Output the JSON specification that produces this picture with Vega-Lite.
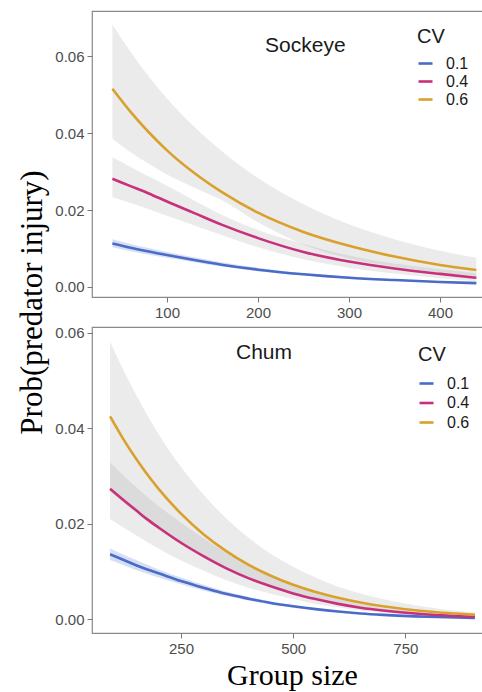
{
  "$schema": "https://vega.github.io/schema/vega-lite/v6.json",
  "padding": {"left": 15, "top": 10, "right": 0, "bottom": 2},
  "background": "white",
  "config": {
    "font": "Liberation Sans",
    "view": {"stroke": "#8a8a8a", "strokeWidth": 1.2},
    "axis": {"grid": false, "domain": false, "tickColor": "#777777", "tickSize": 5, "labelColor": "#4d4d4d", "labelFontSize": 15, "labelFont": "Liberation Sans", "labelPadding": 3}
  },
  "datasets": {
    "sockeye": [
      {"size": 40, "cv": "0.1", "fit": 0.0113, "lo": 0.0103, "hi": 0.0124},
      {"size": 60, "cv": "0.1", "fit": 0.0102, "lo": 0.0093, "hi": 0.0112},
      {"size": 80, "cv": "0.1", "fit": 0.0092, "lo": 0.0084, "hi": 0.0101},
      {"size": 100, "cv": "0.1", "fit": 0.0083, "lo": 0.0076, "hi": 0.0091},
      {"size": 130, "cv": "0.1", "fit": 0.0070, "lo": 0.0064, "hi": 0.0077},
      {"size": 160, "cv": "0.1", "fit": 0.0058, "lo": 0.0053, "hi": 0.0064},
      {"size": 200, "cv": "0.1", "fit": 0.0045, "lo": 0.0041, "hi": 0.0050},
      {"size": 250, "cv": "0.1", "fit": 0.0033, "lo": 0.0030, "hi": 0.0036},
      {"size": 300, "cv": "0.1", "fit": 0.0024, "lo": 0.0022, "hi": 0.0027},
      {"size": 350, "cv": "0.1", "fit": 0.0018, "lo": 0.0016, "hi": 0.0020},
      {"size": 400, "cv": "0.1", "fit": 0.0013, "lo": 0.0012, "hi": 0.0014},
      {"size": 440, "cv": "0.1", "fit": 0.0010, "lo": 0.0009, "hi": 0.0011},
      {"size": 40, "cv": "0.4", "fit": 0.0281, "lo": 0.0233, "hi": 0.0337},
      {"size": 60, "cv": "0.4", "fit": 0.0262, "lo": 0.0218, "hi": 0.0312},
      {"size": 80, "cv": "0.4", "fit": 0.0243, "lo": 0.0202, "hi": 0.0287},
      {"size": 100, "cv": "0.4", "fit": 0.0222, "lo": 0.0185, "hi": 0.0263},
      {"size": 130, "cv": "0.4", "fit": 0.0192, "lo": 0.0160, "hi": 0.0225},
      {"size": 160, "cv": "0.4", "fit": 0.0162, "lo": 0.0135, "hi": 0.0188},
      {"size": 200, "cv": "0.4", "fit": 0.0127, "lo": 0.0103, "hi": 0.0148},
      {"size": 250, "cv": "0.4", "fit": 0.0091, "lo": 0.0072, "hi": 0.0112},
      {"size": 300, "cv": "0.4", "fit": 0.0066, "lo": 0.0050, "hi": 0.0082},
      {"size": 350, "cv": "0.4", "fit": 0.0048, "lo": 0.0035, "hi": 0.0061},
      {"size": 400, "cv": "0.4", "fit": 0.0034, "lo": 0.0023, "hi": 0.0046},
      {"size": 440, "cv": "0.4", "fit": 0.0024, "lo": 0.0015, "hi": 0.0036},
      {"size": 40, "cv": "0.6", "fit": 0.0515, "lo": 0.0385, "hi": 0.0682},
      {"size": 60, "cv": "0.6", "fit": 0.0455, "lo": 0.0350, "hi": 0.0611},
      {"size": 80, "cv": "0.6", "fit": 0.0402, "lo": 0.0320, "hi": 0.0547},
      {"size": 100, "cv": "0.6", "fit": 0.0355, "lo": 0.0292, "hi": 0.0490},
      {"size": 130, "cv": "0.6", "fit": 0.0296, "lo": 0.0258, "hi": 0.0416},
      {"size": 160, "cv": "0.6", "fit": 0.0247, "lo": 0.0226, "hi": 0.0353},
      {"size": 200, "cv": "0.6", "fit": 0.0193, "lo": 0.0168, "hi": 0.0283},
      {"size": 250, "cv": "0.6", "fit": 0.0143, "lo": 0.0110, "hi": 0.0215},
      {"size": 300, "cv": "0.6", "fit": 0.0107, "lo": 0.0074, "hi": 0.0163},
      {"size": 350, "cv": "0.6", "fit": 0.0079, "lo": 0.0053, "hi": 0.0124},
      {"size": 400, "cv": "0.6", "fit": 0.0057, "lo": 0.0037, "hi": 0.0094},
      {"size": 440, "cv": "0.6", "fit": 0.0044, "lo": 0.0028, "hi": 0.0076}
    ],
    "chum": [
      {"size": 92, "cv": "0.1", "fit": 0.0136, "lo": 0.0124, "hi": 0.0148},
      {"size": 125, "cv": "0.1", "fit": 0.0123, "lo": 0.0112, "hi": 0.0134},
      {"size": 150, "cv": "0.1", "fit": 0.0113, "lo": 0.0103, "hi": 0.0124},
      {"size": 175, "cv": "0.1", "fit": 0.0104, "lo": 0.0095, "hi": 0.0114},
      {"size": 200, "cv": "0.1", "fit": 0.0096, "lo": 0.0087, "hi": 0.0104},
      {"size": 250, "cv": "0.1", "fit": 0.0080, "lo": 0.0073, "hi": 0.0087},
      {"size": 300, "cv": "0.1", "fit": 0.0066, "lo": 0.0060, "hi": 0.0072},
      {"size": 350, "cv": "0.1", "fit": 0.0053, "lo": 0.0049, "hi": 0.0058},
      {"size": 400, "cv": "0.1", "fit": 0.0043, "lo": 0.0039, "hi": 0.0047},
      {"size": 450, "cv": "0.1", "fit": 0.0034, "lo": 0.0031, "hi": 0.0037},
      {"size": 500, "cv": "0.1", "fit": 0.0027, "lo": 0.0024, "hi": 0.0029},
      {"size": 550, "cv": "0.1", "fit": 0.0021, "lo": 0.0019, "hi": 0.0023},
      {"size": 600, "cv": "0.1", "fit": 0.0016, "lo": 0.0015, "hi": 0.0017},
      {"size": 650, "cv": "0.1", "fit": 0.0012, "lo": 0.0011, "hi": 0.0013},
      {"size": 700, "cv": "0.1", "fit": 0.0009, "lo": 0.0008, "hi": 0.0010},
      {"size": 800, "cv": "0.1", "fit": 0.00049, "lo": 0.00045, "hi": 0.00053},
      {"size": 905, "cv": "0.1", "fit": 0.00024, "lo": 0.00022, "hi": 0.00026},
      {"size": 92, "cv": "0.4", "fit": 0.0273, "lo": 0.0210, "hi": 0.0328},
      {"size": 125, "cv": "0.4", "fit": 0.0247, "lo": 0.0190, "hi": 0.0298},
      {"size": 150, "cv": "0.4", "fit": 0.0228, "lo": 0.0176, "hi": 0.0277},
      {"size": 175, "cv": "0.4", "fit": 0.0209, "lo": 0.0161, "hi": 0.0256},
      {"size": 200, "cv": "0.4", "fit": 0.0192, "lo": 0.0148, "hi": 0.0237},
      {"size": 250, "cv": "0.4", "fit": 0.0160, "lo": 0.0123, "hi": 0.0202},
      {"size": 300, "cv": "0.4", "fit": 0.0132, "lo": 0.0102, "hi": 0.0170},
      {"size": 350, "cv": "0.4", "fit": 0.0107, "lo": 0.0082, "hi": 0.0139},
      {"size": 400, "cv": "0.4", "fit": 0.0086, "lo": 0.0066, "hi": 0.0112},
      {"size": 450, "cv": "0.4", "fit": 0.0069, "lo": 0.0053, "hi": 0.0090},
      {"size": 500, "cv": "0.4", "fit": 0.0054, "lo": 0.0042, "hi": 0.0070},
      {"size": 550, "cv": "0.4", "fit": 0.0042, "lo": 0.0032, "hi": 0.0055},
      {"size": 600, "cv": "0.4", "fit": 0.0032, "lo": 0.0025, "hi": 0.0042},
      {"size": 650, "cv": "0.4", "fit": 0.0024, "lo": 0.0018, "hi": 0.0031},
      {"size": 700, "cv": "0.4", "fit": 0.0018, "lo": 0.0014, "hi": 0.0023},
      {"size": 800, "cv": "0.4", "fit": 0.00098, "lo": 0.00075, "hi": 0.0013},
      {"size": 905, "cv": "0.4", "fit": 0.00049, "lo": 0.00038, "hi": 0.00064},
      {"size": 92, "cv": "0.6", "fit": 0.0425, "lo": 0.0268, "hi": 0.0581},
      {"size": 125, "cv": "0.6", "fit": 0.0372, "lo": 0.0242, "hi": 0.0515},
      {"size": 150, "cv": "0.6", "fit": 0.0336, "lo": 0.0223, "hi": 0.0470},
      {"size": 175, "cv": "0.6", "fit": 0.0303, "lo": 0.0205, "hi": 0.0427},
      {"size": 200, "cv": "0.6", "fit": 0.0273, "lo": 0.0188, "hi": 0.0388},
      {"size": 250, "cv": "0.6", "fit": 0.0221, "lo": 0.0157, "hi": 0.0319},
      {"size": 300, "cv": "0.6", "fit": 0.0178, "lo": 0.0129, "hi": 0.0261},
      {"size": 350, "cv": "0.6", "fit": 0.0143, "lo": 0.0105, "hi": 0.0212},
      {"size": 400, "cv": "0.6", "fit": 0.0114, "lo": 0.0084, "hi": 0.0171},
      {"size": 450, "cv": "0.6", "fit": 0.0091, "lo": 0.0068, "hi": 0.0137},
      {"size": 500, "cv": "0.6", "fit": 0.0072, "lo": 0.0053, "hi": 0.0110},
      {"size": 550, "cv": "0.6", "fit": 0.0057, "lo": 0.0041, "hi": 0.0087},
      {"size": 600, "cv": "0.6", "fit": 0.0045, "lo": 0.0031, "hi": 0.0068},
      {"size": 650, "cv": "0.6", "fit": 0.0035, "lo": 0.0024, "hi": 0.0054},
      {"size": 700, "cv": "0.6", "fit": 0.0027, "lo": 0.0018, "hi": 0.0042},
      {"size": 800, "cv": "0.6", "fit": 0.0016, "lo": 0.00096, "hi": 0.0025},
      {"size": 905, "cv": "0.6", "fit": 0.00093, "lo": 0.00048, "hi": 0.0014}
    ]
  },
  "spacing": 30,
  "bounds": "flush",
  "resolve": {"scale": {"color": "independent", "x": "independent", "y": "independent"}},
  "vconcat": [
    {
      "width": 392,
      "height": 286,
      "encoding": {
        "x": {"field": "size", "type": "quantitative", "scale": {"domain": [17.6, 448.4], "nice": false, "zero": false}, "axis": {"values": [100, 200, 300, 400], "title": null}},
        "y": {"field": "fit", "type": "quantitative", "scale": {"domain": [-0.0026, 0.0717], "nice": false, "zero": false},
          "axis": {"values": [0, 0.02, 0.04, 0.06], "format": ".2f", "title": "Prob(predator injury)", "titleFont": "Liberation Serif", "titleFontSize": 31, "titleFontWeight": "normal", "titleColor": "#000000", "titleX": -60, "titleY": 291, "titleBaseline": "middle", "titleAngle": 270}}
      },
      "layer": [
        {
          "data": {"name": "sockeye"},
          "transform": [{"filter": "datum.cv != '0.1'"}],
          "mark": {"type": "area", "opacity": 0.2, "color": "#9a9a9a", "interpolate": "monotone"},
          "encoding": {
            "y": {"field": "lo", "type": "quantitative", "axis": {"values": [0, 0.02, 0.04, 0.06], "format": ".2f", "title": "Prob(predator injury)", "titleFont": "Liberation Serif", "titleFontSize": 31, "titleFontWeight": "normal", "titleColor": "#000000", "titleX": -60, "titleY": 291, "titleBaseline": "middle", "titleAngle": 270}},
            "y2": {"field": "hi"},
            "detail": {"field": "cv", "type": "nominal"}
          }
        },
        {
          "data": {"name": "sockeye"},
          "transform": [{"filter": "datum.cv == '0.1'"}],
          "mark": {"type": "area", "opacity": 0.22, "color": "#4a6fd0", "interpolate": "monotone"},
          "encoding": {
            "y": {"field": "lo", "type": "quantitative", "axis": {"values": [0, 0.02, 0.04, 0.06], "format": ".2f", "title": "Prob(predator injury)", "titleFont": "Liberation Serif", "titleFontSize": 31, "titleFontWeight": "normal", "titleColor": "#000000", "titleX": -60, "titleY": 291, "titleBaseline": "middle", "titleAngle": 270}},
            "y2": {"field": "hi"}
          }
        },
        {
          "data": {"name": "sockeye"},
          "mark": {"type": "line", "strokeWidth": 2.6, "interpolate": "monotone"},
          "encoding": {
            "color": {"field": "cv", "type": "nominal", "scale": {"domain": ["0.1", "0.4", "0.6"], "range": ["#4a6bc8", "#c8307c", "#d9a02c"]},
              "legend": {"title": "CV", "orient": "none", "legendX": 325, "legendY": 16, "titleFontSize": 20, "titleFontWeight": "normal", "titleColor": "#1a1a1a", "titlePadding": 8, "labelFontSize": 16, "labelColor": "#1a1a1a", "symbolType": "stroke", "symbolSize": 196, "symbolStrokeWidth": 2.6, "labelOffset": 12, "rowPadding": 1, "padding": 0}}
          }
        },
        {
          "data": {"values": [{"size": 252, "fit": 0.0626, "label": "Sockeye"}]},
          "mark": {"type": "text", "fontSize": 21, "color": "#1a1a1a", "baseline": "middle", "align": "center"},
          "encoding": {
            "text": {"field": "label"}
          }
        }
      ]
    },
    {
      "width": 392,
      "height": 306,
      "encoding": {
        "x": {"field": "size", "type": "quantitative", "scale": {"domain": [51.7, 925.2], "nice": false, "zero": false},
          "axis": {"values": [250, 500, 750], "title": "Group size", "titleFont": "Liberation Serif", "titleFontSize": 30, "titleFontWeight": "normal", "titleColor": "#000000", "titleX": 200, "titleY": 51, "titleBaseline": "alphabetic", "titleAlign": "center"}},
        "y": {"field": "fit", "type": "quantitative", "scale": {"domain": [-0.0029, 0.0612], "nice": false, "zero": false},
          "axis": {"values": [0, 0.02, 0.04, 0.06], "format": ".2f", "title": null}}
      },
      "layer": [
        {
          "data": {"name": "chum"},
          "transform": [{"filter": "datum.cv != '0.1'"}],
          "mark": {"type": "area", "opacity": 0.2, "color": "#9a9a9a", "interpolate": "monotone"},
          "encoding": {
            "y": {"field": "lo", "type": "quantitative", "axis": {"values": [0, 0.02, 0.04, 0.06], "format": ".2f", "title": null}},
            "y2": {"field": "hi"},
            "detail": {"field": "cv", "type": "nominal"}
          }
        },
        {
          "data": {"name": "chum"},
          "transform": [{"filter": "datum.cv == '0.1'"}],
          "mark": {"type": "area", "opacity": 0.22, "color": "#4a6fd0", "interpolate": "monotone"},
          "encoding": {
            "y": {"field": "lo", "type": "quantitative", "axis": {"values": [0, 0.02, 0.04, 0.06], "format": ".2f", "title": null}},
            "y2": {"field": "hi"}
          }
        },
        {
          "data": {"name": "chum"},
          "mark": {"type": "line", "strokeWidth": 2.6, "interpolate": "monotone"},
          "encoding": {
            "color": {"field": "cv", "type": "nominal", "scale": {"domain": ["0.1", "0.4", "0.6"], "range": ["#4a6bc8", "#c8307c", "#d9a02c"]},
              "legend": {"title": "CV", "orient": "none", "legendX": 326, "legendY": 18, "titleFontSize": 20, "titleFontWeight": "normal", "titleColor": "#1a1a1a", "titlePadding": 10, "labelFontSize": 16, "labelColor": "#1a1a1a", "symbolType": "stroke", "symbolSize": 196, "symbolStrokeWidth": 2.6, "labelOffset": 12, "rowPadding": 2.5, "padding": 0}}
          }
        },
        {
          "data": {"values": [{"size": 435, "fit": 0.0558, "label": "Chum"}]},
          "mark": {"type": "text", "fontSize": 21, "color": "#1a1a1a", "baseline": "middle", "align": "center"},
          "encoding": {
            "text": {"field": "label"}
          }
        }
      ]
    }
  ]
}
